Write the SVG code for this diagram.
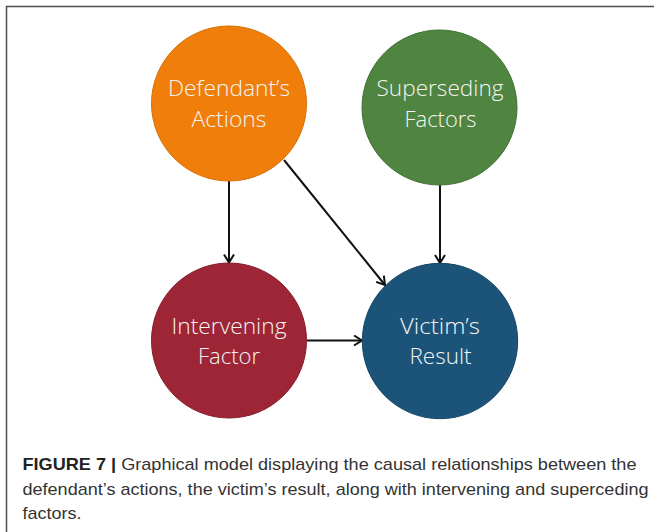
<svg xmlns="http://www.w3.org/2000/svg" width="654" height="532" viewBox="0 0 654 532">
  <style>
    .node-label { font-family: "Open Sans", "Noto Sans", "DejaVu Sans", sans-serif; font-weight: 300; font-size: 22px; fill: #f4f4f4; text-anchor: middle; }
    .edge { stroke: #111; stroke-width: 2; fill: none; marker-end: url(#open-arrow); }
    .caption { font-family: "Liberation Sans", Arial, sans-serif; font-size: 17px; fill: #333; }
    .caption .lead { font-weight: bold; fill: #222; }
  </style>
  <defs>
    <marker id="open-arrow" markerUnits="userSpaceOnUse" markerWidth="14" markerHeight="14" refX="9" refY="6" orient="auto">
      <path d="M1,1 L9,6 L1,11" fill="none" stroke="#111" stroke-width="2" stroke-linejoin="miter"/>
    </marker>
  </defs>

  <rect width="654" height="532" fill="#ffffff"/>
  <!-- frame: only the top and left edges fall inside the canvas -->
  <rect x="6.5" y="6.5" width="700" height="600" fill="none" stroke="#4d4d4d" stroke-width="1.5"/>

  <g id="connectors">
    <line class="edge" x1="229" y1="181" x2="229" y2="262.5"/>
    <line class="edge" x1="440" y1="185" x2="440" y2="263"/>
    <line class="edge" x1="284" y1="160" x2="385" y2="285"/>
    <line class="edge" x1="307" y1="340.5" x2="362" y2="340.5"/>
  </g>

  <g id="defendants-actions">
    <circle cx="229" cy="103.5" r="77.5" fill="#ef7f0a" stroke="#d86f06" stroke-width="1"/>
    <text class="node-label" x="229" y="96" textLength="122" lengthAdjust="spacingAndGlyphs">Defendant’s</text>
    <text class="node-label" x="229" y="127" textLength="75" lengthAdjust="spacingAndGlyphs">Actions</text>
  </g>

  <g id="superseding-factors">
    <circle cx="439.5" cy="107.5" r="77.5" fill="#4f8541" stroke="#3f7033" stroke-width="1"/>
    <text class="node-label" x="440" y="96" textLength="127" lengthAdjust="spacingAndGlyphs">Superseding</text>
    <text class="node-label" x="440.5" y="127" textLength="72" lengthAdjust="spacingAndGlyphs">Factors</text>
  </g>

  <g id="intervening-factor">
    <circle cx="229" cy="340.5" r="77.5" fill="#9e2536" stroke="#861c2c" stroke-width="1"/>
    <text class="node-label" x="229" y="333.5" textLength="115" lengthAdjust="spacingAndGlyphs">Intervening</text>
    <text class="node-label" x="229" y="363.5" textLength="62" lengthAdjust="spacingAndGlyphs">Factor</text>
  </g>

  <g id="victims-result">
    <circle cx="440" cy="341" r="77.7" fill="#1c5479" stroke="#164665" stroke-width="1"/>
    <text class="node-label" x="440" y="333.5" textLength="80" lengthAdjust="spacingAndGlyphs">Victim’s</text>
    <text class="node-label" x="440.5" y="364" textLength="62" lengthAdjust="spacingAndGlyphs">Result</text>
  </g>

  <g id="caption">
    <text class="caption" x="22.5" y="470" textLength="614" lengthAdjust="spacingAndGlyphs"><tspan class="lead">FIGURE 7 |</tspan> Graphical model displaying the causal relationships between the</text>
    <text class="caption" x="22.5" y="494.5" textLength="626" lengthAdjust="spacingAndGlyphs">defendant’s actions, the victim’s result, along with intervening and superceding</text>
    <text class="caption" x="22.5" y="519" textLength="59" lengthAdjust="spacingAndGlyphs">factors.</text>
  </g>
</svg>
